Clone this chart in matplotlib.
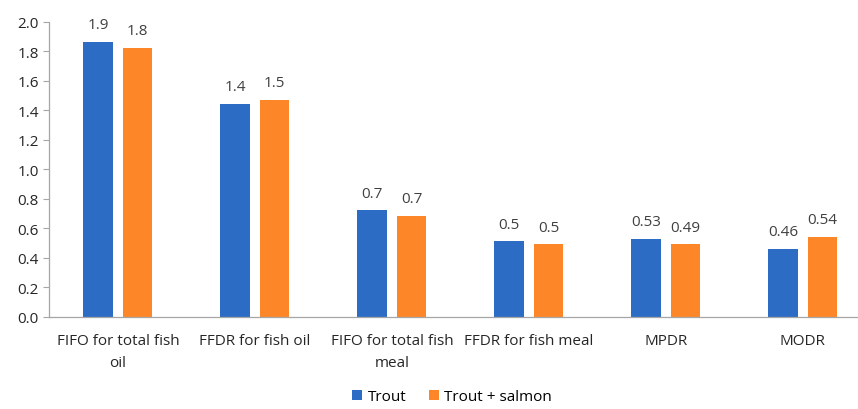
import matplotlib
matplotlib.use("Agg")
import matplotlib.pyplot as plt
import numpy as np

plt.rcParams['font.family'] = ['Open Sans', 'DejaVu Sans']

categories = ["FIFO for total fish\noil", "FFDR for fish oil", "FIFO for total fish\nmeal",
              "FFDR for fish meal", "MPDR", "MODR"]
trout = [1.86, 1.44, 0.72, 0.51, 0.53, 0.46]
trout_salmon = [1.82, 1.47, 0.68, 0.49, 0.49, 0.54]
label_decimals = [1, 1, 1, 1, 2, 2]
series_names = ["Trout", "Trout + salmon"]

blue = "#2D6CC5"
orange = "#FD8628"
text_gray = "#404040"
axis_gray = "#A6A6A6"

fig = plt.figure(figsize=(8.58, 4.10), dpi=100)
# plot area runs past the right edge of the figure
ax = fig.add_axes([0.0575, 0.225, 0.958, 0.72])

x = np.arange(len(categories))
w = 0.215
off = 0.145
b1 = ax.bar(x - off, trout, w, color=blue, label=series_names[0])
b2 = ax.bar(x + off, trout_salmon, w, color=orange, label=series_names[1])

for bars, vals in ((b1, trout), (b2, trout_salmon)):
    for rect, v, d in zip(bars, vals, label_decimals):
        ax.annotate(f"{v:.{d}f}", (rect.get_x() + rect.get_width() / 2, v),
                    xytext=(0, 10), textcoords="offset points",
                    ha="center", va="baseline", fontsize=11, color=text_gray)

ax.set_xlim(-0.5, len(categories) - 0.5)
ax.set_ylim(0, 2.0)
ax.set_yticks(np.arange(0, 2.01, 0.2))
ax.yaxis.set_major_formatter(matplotlib.ticker.FormatStrFormatter('%.1f'))
ax.set_xticks(x)
ax.set_xticklabels(categories, fontsize=11, color="#262626", linespacing=1.6)
ax.tick_params(axis='x', length=0, pad=12)
ax.tick_params(axis='y', labelsize=11, labelcolor="#262626", color=axis_gray,
               length=4.5, width=0.8, pad=3)

for s in ("top", "right"):
    ax.spines[s].set_visible(False)
for s in ("left", "bottom"):
    ax.spines[s].set_color(axis_gray)
    ax.spines[s].set_linewidth(0.9)

fig.legend(handles=[b1, b2], labels=series_names, loc="lower center",
           bbox_to_anchor=(0.527, -0.022), ncol=2, frameon=False, fontsize=11,
           handlelength=0.65, handleheight=0.65, handletextpad=0.35, columnspacing=1.5)

fig.savefig("out.png", dpi=100)
